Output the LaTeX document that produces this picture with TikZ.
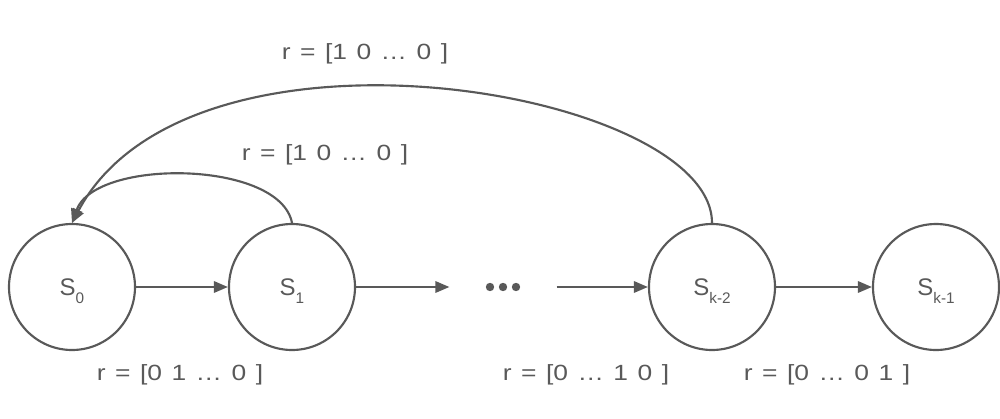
\documentclass[tikz,border=0pt]{standalone}
\usepackage{fontspec}
\usepackage{graphicx}
\setmainfont{Liberation Sans}
\usetikzlibrary{arrows.meta}
\definecolor{ink}{HTML}{595959}
\newcommand\mylbl[1]{\scalebox{1.2}[1]{\fontsize{16.5}{19}\selectfont\spaceskip=0.36em\relax #1}}
\newcommand\mysub[1]{\raisebox{-6pt}[0pt][0pt]{\fontsize{11.5}{12}\selectfont #1}}
\begin{document}
\begin{tikzpicture}[x=0.75pt,y=-0.75pt,
  line width=1.6pt, draw=ink, text=ink,
  state/.style={circle, draw=ink, line width=1.6pt, minimum size=94.5pt, inner sep=0pt,
     font=\fontsize{18}{20}\selectfont},
  lbl/.style={inner sep=0pt},
  arr/.style={-{Triangle[length=10.5pt,width=8.5pt]}, draw=ink, line width=1.6pt}]
\useasboundingbox (0,0) rectangle (1000,418);
\node[state] (s0) at (72,287) {S\mysub{0}};
\node[state] (s1) at (292,287) {S\mysub{1}};
\node[inner sep=0pt, minimum width=78.75pt, minimum height=6pt] (dots) at (503,287) {};
\fill[ink] (dots.center) ++(-13,0) circle (4.2);
\fill[ink] (dots.center) circle (4.2);
\fill[ink] (dots.center) ++(13,0) circle (4.2);
\node[state] (sk2) at (712,287) {S\mysub{k-2}};
\node[state] (sk1) at (936,287) {S\mysub{k-1}};
\draw[arr] (s0) -- (s1);
\draw[arr] (s1) -- (dots.west);
\draw[arr] (dots.east) -- (sk2);
\draw[arr] (sk2) -- (sk1);
\draw[arr] (s1.north) .. controls (280,160) and (95,158) .. (s0.north);
\draw[arr] (sk2.north) .. controls (712,90) and (190,0) .. (s0.north);
\node[lbl] (l1) at (365,54) {\mylbl{r = [1 0 … 0 ]}};
\node[lbl] (l2) at (325,155) {\mylbl{r = [1 0 … 0 ]}};
\node[lbl] (l3) at (180,375) {\mylbl{r = [0 1 … 0 ]}};
\node[lbl] (l4) at (586,375) {\mylbl{r = [0 … 1 0 ]}};
\node[lbl] (l5) at (827,375) {\mylbl{r = [0 … 0 1 ]}};
\end{tikzpicture}
\end{document}
